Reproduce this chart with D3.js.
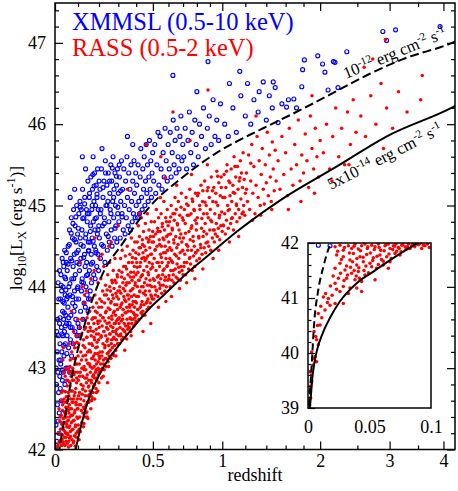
<!DOCTYPE html>
<html>
<head>
<meta charset="utf-8">
<script src="https://cdn.jsdelivr.net/npm/d3@7"></script>
<style>
  html, body { margin: 0; padding: 0; background: #fff; }
  svg { display: block; font-family: "Liberation Serif", "Times New Roman", serif; }
</style>
</head>
<body>
<div id="chart"></div>
<script>
// ---- data: [redshift, log10 Lx] ----
const dashedLimit = [ // 1e-12 erg cm^-2 s^-1
  [0.0008,39.05],[0.003,39.78],[0.0049,40.51],[0.0084,41.15],[0.0125,41.57],[0.0179,41.96],
  [0.0239,42.1],[0.0453,42.45],[0.066,42.8],[0.0967,43.2],[0.1276,43.51],[0.167,43.84],
  [0.2163,44.15],[0.3253,44.54],[0.4822,44.99],[0.699,45.35],[0.956,45.65],[1.242,45.87],
  [1.436,45.99],[1.793,46.19],[2.216,46.41],[2.686,46.62],[3.226,46.8],[4.18,47.0],[4.3,47.03]
];
const solidLimit = [ // 5e-14 erg cm^-2 s^-1
  [0.0016,39.0],[0.0038,39.6],[0.0071,40.03],[0.0125,40.39],[0.0179,40.64],[0.026,40.94],
  [0.0396,41.27],[0.0531,41.48],[0.0667,41.69],[0.0884,41.99],[0.1432,42.57],[0.2246,43.02],
  [0.3129,43.31],[0.406,43.56],[0.482,43.74],[0.57,43.9],[0.749,44.2],[0.8745,44.37],
  [1.125,44.68],[1.55,45.07],[2.216,45.48],[2.955,45.85],[4.2,46.21],[4.3,46.24]
];

const xmmPoints = [
  [0.004,42.3],[0.006,42.8],[0.008,42.1],[0.009,43.2],[0.01,42.55],[0.011,43.6],[0.012,42.95],[0.013,42.35],[0.014,43.4],[0.015,42.7],
  [0.016,43.85],[0.017,43.1],[0.018,42.45],[0.019,43.55],[0.02,42.9],[0.007,43.45],[0.005,43.0],[0.013,44.05],[0.017,42.2],[0.019,44.2],
  [0.021,43.3],[0.022,42.75],[0.023,43.85],[0.024,43.05],[0.025,44.15],[0.026,42.6],[0.027,43.5],[0.028,43.95],[0.029,43.2],[0.03,44.35],
  [0.031,42.85],[0.032,43.7],[0.033,43.4],[0.034,44.0],[0.035,42.95],[0.036,43.6],[0.037,44.25],[0.038,43.15],[0.039,43.8],[0.04,43.45],
  [0.041,44.45],[0.042,42.8],[0.043,43.9],[0.044,43.3],[0.045,44.1],[0.046,43.65],[0.047,43.0],[0.048,44.3],[0.049,43.55],[0.05,43.85],
  [0.051,43.4],[0.052,44.2],[0.054,43.0],[0.055,43.75],[0.056,44.5],[0.058,43.25],[0.059,44.0],[0.06,43.55],[0.062,44.7],[0.063,42.95],
  [0.064,43.9],[0.066,43.35],[0.067,44.35],[0.068,43.65],[0.07,44.85],[0.071,43.15],[0.072,44.1],[0.074,43.5],[0.075,44.6],[0.076,43.8],
  [0.078,44.25],[0.079,43.3],[0.08,44.95],[0.082,43.7],[0.083,44.4],[0.084,43.95],[0.086,43.45],[0.087,44.75],[0.088,44.15],[0.09,43.6],
  [0.091,44.55],[0.092,43.85],[0.094,45.0],[0.095,44.3],[0.096,43.4],[0.098,44.65],[0.099,44.0],[0.1,43.55],[0.065,45.1],[0.085,45.2],
  [0.101,44.45],[0.103,43.85],[0.104,44.9],[0.106,43.5],[0.107,44.2],[0.109,45.05],[0.11,44.6],[0.112,43.7],[0.113,44.35],[0.115,44.95],
  [0.116,43.95],[0.118,44.7],[0.119,44.1],[0.121,45.2],[0.122,43.6],[0.124,44.5],[0.125,44.05],[0.127,44.85],[0.128,43.8],[0.13,44.4],
  [0.131,45.1],[0.133,44.25],[0.134,43.75],[0.136,44.65],[0.137,44.0],[0.139,44.95],[0.14,44.3],[0.142,43.9],[0.143,44.8],[0.145,44.15],
  [0.146,45.3],[0.148,44.55],[0.149,43.85],[0.15,44.45],[0.108,43.4],[0.135,45.45],[0.12,45.6],[0.147,43.7],
  [0.151,44.9],[0.153,44.2],[0.154,45.15],[0.156,44.55],[0.157,43.95],[0.159,44.75],[0.16,45.35],[0.162,44.4],[0.163,44.05],[0.165,44.95],
  [0.166,44.6],[0.168,45.2],[0.169,44.3],[0.171,45.6],[0.172,44.8],[0.174,44.15],[0.175,45.05],[0.177,44.5],[0.178,45.4],[0.18,44.7],
  [0.181,44.1],[0.183,45.0],[0.184,44.45],[0.186,45.25],[0.187,44.85],[0.189,44.25],[0.19,45.1],[0.192,44.65],[0.193,45.45],[0.195,44.4],
  [0.196,44.95],[0.198,44.2],[0.199,44.75],[0.17,45.38],[0.158,43.85],
  [0.202,44.6],[0.205,45.2],[0.207,44.35],[0.21,44.95],[0.212,45.45],[0.215,45.7],[0.217,44.75],[0.22,45.1],[0.222,44.5],[0.225,45.3],
  [0.227,44.85],[0.23,44.3],[0.232,45.55],[0.235,45.0],[0.237,44.65],[0.24,45.25],[0.242,44.45],[0.245,45.05],[0.247,45.4],[0.25,44.8],
  [0.252,44.55],[0.255,45.15],[0.257,44.95],[0.26,45.5],[0.262,44.7],[0.265,45.3],[0.267,44.5],[0.27,45.05],[0.272,45.6],[0.275,44.85],
  [0.277,45.2],[0.28,44.6],[0.282,45.4],[0.285,45.0],[0.287,44.75],[0.29,45.25],[0.292,44.55],[0.295,45.45],[0.297,44.9],[0.3,45.15],
  [0.303,44.8],[0.306,45.35],[0.31,44.6],[0.313,45.05],[0.317,45.55],[0.32,44.9],[0.323,45.2],[0.327,44.7],[0.33,45.45],[0.334,45.0],
  [0.337,44.65],[0.34,45.3],[0.344,44.85],[0.347,45.6],[0.35,45.1],[0.354,44.75],[0.357,45.4],[0.36,44.95],[0.364,45.2],[0.367,44.7],
  [0.37,45.5],[0.374,45.05],[0.377,44.8],[0.38,45.3],[0.384,44.9],[0.387,45.55],[0.39,45.15],[0.394,44.85],[0.397,45.4],[0.4,45.0],
  [0.35,45.85],[0.38,45.75],
  [0.403,45.25],[0.407,44.85],[0.411,45.5],[0.415,45.05],[0.419,44.9],[0.423,45.35],[0.427,45.7],[0.431,45.1],[0.435,44.95],[0.439,45.45],
  [0.443,45.2],[0.447,45.6],[0.451,45.0],[0.455,45.3],[0.459,45.75],[0.463,45.15],[0.467,45.5],[0.471,45.05],[0.475,45.35],[0.479,45.8],
  [0.483,45.2],[0.487,45.55],[0.491,45.1],[0.495,45.4],[0.499,45.65],
  [0.505,45.3],[0.512,45.75],[0.518,45.15],[0.525,45.5],[0.532,45.9],[0.538,45.25],[0.545,45.85],[0.552,45.45],[0.558,45.2],[0.565,45.65],
  [0.572,45.35],[0.578,45.95],[0.585,45.55],[0.592,45.3],[0.598,45.75],[0.605,45.45],[0.612,45.9],[0.618,45.35],[0.625,45.65],[0.632,46.05],
  [0.638,45.5],[0.645,45.8],[0.652,45.4],[0.658,45.95],[0.665,45.6],[0.672,45.45],[0.678,45.85],[0.685,46.1],[0.692,45.55],[0.698,45.75],
  [0.63,46.6],
  [0.705,45.6],[0.715,45.95],[0.725,45.45],[0.735,45.8],[0.745,46.15],[0.755,45.65],[0.765,45.9],[0.775,45.5],[0.785,46.05],[0.795,45.75],
  [0.81,45.6],[0.82,46.0],[0.835,45.85],[0.85,46.2],[0.865,45.7],[0.88,45.95],[0.895,46.1],[0.91,45.75],[0.925,46.3],[0.94,45.85],
  [0.955,46.05],[0.97,45.8],[0.985,46.25],[0.885,46.77],[0.8,46.4],
  [1.02,46.0],[1.06,46.5],[1.09,46.2],[1.12,45.9],[1.16,46.35],[1.2,46.1],[1.22,46.5],[1.25,46.0],[1.28,46.3],[1.32,46.15],
  [1.37,46.52],[1.4,46.05],[1.43,46.35],[1.46,46.2],[1.49,46.45],[1.15,46.65],[1.33,46.4],[1.05,45.85],
  [1.52,46.02],[1.56,46.25],[1.61,46.21],[1.63,46.3],[1.69,46.31],[1.72,46.2],[1.78,46.46],[1.79,46.67],[1.81,46.79],[1.97,46.84],
  [2.03,46.74],[2.06,46.64],[2.1,46.42],[2.17,46.77],[2.19,46.76],[2.23,46.45],[2.35,46.89],[2.89,47.14],[2.95,47.03],[3.1,47.16],
  [3.93,47.2],[1.47,46.52],
  [0.0084,41.96],[0.0179,41.95]
];

// denser XMMSL core at low redshift
const xmmCore = [
  [0.0215,43.62],[0.0236,43.1],[0.0258,44.02],[0.0283,43.42],[0.0306,42.98],[0.0329,43.82],[0.0347,44.3],[0.0368,43.28],[0.0392,43.68],[0.0413,44.12],
  [0.0437,43.52],[0.0458,43.96],[0.0477,44.42],[0.0503,43.18],[0.0531,43.88],[0.0557,44.28],[0.0584,43.62],[0.0611,44.52],[0.0637,44.04],[0.0664,43.5],
  [0.0693,44.66],[0.0721,44.32],[0.0748,43.88],[0.0773,44.78],[0.0806,44.1],[0.0838,44.58],[0.0871,43.76],[0.0903,44.86],[0.0937,44.42],[0.0972,43.98],
  [0.1013,44.72],[0.1052,44.28],[0.1094,44.98],[0.1133,44.52],[0.1176,44.06],[0.1218,44.84],[0.1261,44.36],[0.1305,45.02],[0.1348,44.6],[0.1392,44.14],
  [0.1436,44.9],[0.1482,44.44],[0.1527,45.1],[0.1573,44.68],[0.1618,44.28],[0.1664,45.0],[0.1711,44.56],[0.1758,45.24],[0.1806,44.84],[0.1853,44.42],
  [0.1901,45.14],[0.1952,44.7],[0.2004,45.3],[0.2068,44.9],[0.2132,44.52],[0.2197,45.22],[0.2263,44.78],[0.2331,45.4],[0.2398,45.0],[0.2467,44.62],
  [0.2536,45.3],[0.2607,44.9],[0.2678,45.46],[0.2751,45.1],[0.2824,44.72],[0.2897,45.36],[0.2972,44.98],[0.3048,45.5],[0.3124,45.18],[0.3201,44.86]
];

// RASS sources below 1e42 (seen in the inset)
const rassLow = [
  [0.022,41.93],[0.026,41.96],[0.0287,41.87],[0.0328,41.95],[0.0355,41.9],[0.0382,41.98],[0.0409,41.89],[0.0436,41.95],[0.0463,41.98],[0.0482,41.9],
  [0.0518,41.96],[0.0545,41.93],[0.0572,41.98],[0.0591,41.87],[0.0626,41.95],[0.0653,41.98],[0.0667,41.9],[0.0694,41.95],[0.0715,41.98],[0.0734,41.92],
  [0.0762,41.96],[0.0789,41.93],[0.0816,41.98],[0.0843,41.95],[0.0883,41.98],[0.0924,41.9],[0.0951,41.95],[0.0986,41.92],
  [0.0233,41.78],[0.0287,41.75],[0.0369,41.81],[0.0423,41.75],[0.0477,41.79],[0.0531,41.73],[0.0585,41.78],[0.064,41.75],[0.0707,41.81],[0.0748,41.78],
  [0.0667,41.66],[0.0612,41.6],[0.0558,41.54],[0.0504,41.63],[0.045,41.66],[0.0396,41.6],[0.0341,41.69],[0.026,41.63],[0.022,41.54],[0.0301,41.51],
  [0.0355,41.45],[0.0409,41.48],[0.0463,41.42],[0.0518,41.57],[0.0572,41.61],[0.0612,41.67],[0.0436,41.3],[0.0382,41.33],[0.0314,41.36],[0.0247,41.36],
  [0.022,41.27],[0.0287,41.21],[0.0341,41.18],[0.0396,41.18],[0.026,41.12],[0.0328,41.08],[0.0545,41.33],[0.0436,41.12],[0.0653,41.54],
  [0.0125,41.02],[0.0165,40.99],[0.0179,40.87],[0.022,40.9],[0.0287,40.9],[0.0138,40.78],[0.0084,40.72],[0.0098,40.51],[0.0049,40.39],[0.007,40.24],
  [0.0084,40.15],[0.003,40.02],[0.0057,39.93],[0.007,39.84],[0.0043,39.78],[0.0016,39.66],[0.003,39.48],[0.0016,39.3],[0.0022,39.18],[0.0011,39.05],
  [0.0241,41.85],[0.0272,41.7],[0.0296,41.92],[0.0313,41.58],[0.0337,41.82],[0.0362,41.66],[0.0374,41.94],[0.0398,41.72],[0.0413,41.55],[0.0427,41.86],
  [0.0448,41.74],[0.0471,41.58],[0.0486,41.93],[0.0507,41.82],[0.0526,41.68],[0.0539,41.88],[0.0561,41.76],[0.0578,41.92],[0.0597,41.7],[0.0619,41.86],
  [0.0634,41.97],[0.0658,41.8],[0.0676,41.72],[0.0689,41.88],[0.0703,41.94],[0.0721,41.85],[0.0742,41.9],[0.0757,41.84],[0.0771,41.97],[0.0796,41.88],
  [0.0808,41.93],[0.0829,41.9],[0.0851,41.99],[0.0868,41.93],[0.0897,41.97],[0.0912,41.99],[0.0938,41.96],[0.0972,41.98],[0.0264,41.45],[0.0293,41.32],
  [0.0321,41.42],[0.0346,41.56],[0.0375,41.5],[0.0392,41.4],[0.0418,41.36],[0.0455,41.5],[0.0492,41.46],[0.0232,41.16],[0.0196,41.05],[0.0182,41.22],
  [0.0205,41.4],[0.0158,40.92],[0.0143,41.08],[0.0112,40.64],[0.0104,40.85],[0.0063,40.3],[0.0077,40.5],[0.0039,39.9],[0.0027,39.6],[0.0021,39.4]
];

const rassMain = [
  [0.012,42.05],[0.015,42.2],[0.018,42.1],[0.02,42.35],[0.009,42.02],[0.017,42.5],
  [0.021,42.08],[0.023,42.25],[0.025,42.12],[0.026,42.42],[0.028,42.05],[0.029,42.31],[0.031,42.18],[0.032,42.55],[0.034,42.09],[0.035,42.38],
  [0.036,42.24],[0.038,42.62],[0.039,42.15],[0.04,42.46],[0.042,42.05],[0.043,42.33],[0.044,42.71],[0.045,42.2],[0.046,42.52],[0.047,42.1],
  [0.048,42.4],[0.049,42.85],[0.05,42.28],[0.027,42.7],[0.037,42.95],[0.033,43.1],
  [0.051,42.6],[0.052,42.07],[0.053,42.35],[0.054,42.85],[0.055,42.18],[0.056,42.48],[0.057,42.7],[0.058,42.03],[0.059,42.27],[0.06,42.95],
  [0.061,42.55],[0.062,42.14],[0.063,42.4],[0.064,42.78],[0.065,43.1],[0.066,42.22],[0.067,42.62],[0.068,42.05],[0.069,42.9],[0.07,42.33],
  [0.071,42.5],[0.072,43.2],[0.073,42.12],[0.074,42.72],[0.075,42.42],[0.076,43.0],[0.077,42.25],[0.078,42.58],[0.079,42.08],[0.08,42.85],
  [0.081,43.3],[0.082,42.36],[0.083,42.66],[0.084,42.17],[0.085,42.95],[0.086,42.48],[0.087,43.12],[0.088,42.04],[0.089,42.3],[0.09,42.75],
  [0.091,42.55],[0.092,43.4],[0.093,42.15],[0.094,42.88],[0.095,42.4],[0.096,43.05],[0.097,42.62],[0.098,42.22],[0.099,43.25],[0.1,42.5],
  [0.101,42.3],[0.102,42.85],[0.103,43.3],[0.104,42.55],[0.105,42.12],[0.106,43.05],[0.107,42.7],[0.108,42.4],[0.109,43.5],[0.11,42.95],
  [0.111,42.22],[0.112,42.62],[0.113,43.2],[0.114,42.8],[0.115,42.48],[0.116,43.42],[0.117,42.33],[0.118,43.0],[0.119,42.68],[0.12,43.6],
  [0.121,42.9],[0.122,42.45],[0.123,43.15],[0.124,42.78],[0.125,42.28],[0.126,43.35],[0.127,42.6],[0.128,43.02],[0.129,42.5],[0.13,43.8],
  [0.131,42.88],[0.132,43.25],[0.133,42.4],[0.134,42.72],[0.135,43.5],[0.136,42.98],[0.137,42.55],[0.138,43.1],[0.139,42.82],[0.14,43.38],
  [0.141,42.46],[0.142,43.62],[0.143,42.92],[0.144,42.66],[0.145,43.2],[0.146,42.38],[0.147,43.45],[0.148,42.77],[0.149,43.05],[0.15,42.58],
  [0.118,44.0],[0.138,43.95],
  [0.151,42.85],[0.152,43.3],[0.153,42.6],[0.154,43.7],[0.155,43.05],[0.156,42.72],[0.157,43.5],[0.158,42.95],[0.159,43.2],[0.16,42.5],
  [0.161,43.85],[0.162,43.4],[0.163,42.82],[0.164,43.12],[0.165,42.65],[0.166,43.6],[0.167,43.0],[0.168,43.28],[0.169,42.9],[0.17,43.75],
  [0.171,42.7],[0.172,43.45],[0.173,43.15],[0.174,42.78],[0.175,43.55],[0.176,43.02],[0.177,42.88],[0.178,43.35],[0.179,42.62],[0.18,43.9],
  [0.181,43.1],[0.182,43.62],[0.183,42.95],[0.184,43.25],[0.185,42.75],[0.186,43.48],[0.187,43.05],[0.188,43.8],[0.189,42.85],[0.19,43.32],
  [0.191,43.68],[0.192,42.98],[0.193,43.18],[0.194,42.72],[0.195,43.55],[0.196,43.08],[0.197,42.92],[0.198,43.42],[0.199,43.75],[0.2,43.15],
  [0.176,44.2],[0.195,44.05],
  [0.201,43.5],[0.203,42.95],[0.204,43.85],[0.205,43.2],[0.207,43.65],[0.208,43.05],[0.209,44.1],[0.21,43.38],[0.212,42.88],[0.213,43.75],
  [0.214,43.15],[0.216,43.52],[0.217,43.0],[0.218,43.95],[0.22,43.3],[0.221,43.62],[0.222,43.1],[0.224,44.25],[0.225,43.45],[0.226,42.98],
  [0.228,43.8],[0.229,43.25],[0.23,43.58],[0.232,43.12],[0.233,44.02],[0.234,43.4],[0.236,43.7],[0.237,43.02],[0.238,43.9],[0.24,43.33],
  [0.241,43.55],[0.242,43.18],[0.244,44.15],[0.245,43.48],[0.246,43.08],[0.248,43.85],[0.249,43.28],[0.25,43.62],[0.252,43.15],[0.253,44.3],
  [0.254,43.42],[0.256,43.72],[0.257,43.22],[0.258,43.95],[0.26,43.52],[0.261,43.12],[0.262,43.82],[0.264,43.35],[0.265,44.08],[0.266,43.6],
  [0.268,43.25],[0.269,43.9],[0.27,43.45],[0.272,43.18],[0.273,44.2],[0.274,43.68],[0.276,43.38],[0.277,43.98],[0.278,43.55],[0.28,43.28],
  [0.281,43.78],[0.282,44.35],[0.284,43.45],[0.285,43.65],[0.286,43.22],[0.288,44.05],[0.289,43.58],[0.29,43.35],[0.292,43.88],[0.293,43.48],
  [0.294,44.15],[0.296,43.72],[0.297,43.3],[0.298,43.95],[0.299,43.6],[0.215,44.4],[0.262,44.55],[0.243,42.82],[0.287,43.15],
  [0.301,43.85],[0.302,43.4],[0.304,44.2],[0.305,43.62],[0.306,43.3],[0.308,44.0],[0.309,43.5],[0.31,43.75],[0.312,44.35],[0.313,43.42],
  [0.314,43.92],[0.316,43.58],[0.317,44.12],[0.318,43.35],[0.32,43.8],[0.321,44.45],[0.322,43.65],[0.324,43.48],[0.325,44.05],[0.326,43.72],
  [0.328,43.38],[0.329,44.25],[0.33,43.88],[0.332,43.55],[0.333,44.1],[0.334,43.45],[0.336,43.95],[0.337,43.68],[0.338,44.38],[0.34,43.52],
  [0.341,43.82],[0.342,44.02],[0.344,43.42],[0.345,44.22],[0.346,43.75],[0.348,43.6],[0.349,44.5],[0.35,43.9],[0.352,43.48],[0.353,44.15],
  [0.354,43.7],[0.356,43.55],[0.357,44.3],[0.358,43.85],[0.36,44.05],[0.361,43.5],[0.362,43.78],[0.364,44.4],[0.365,43.62],[0.366,43.95],
  [0.368,43.45],[0.369,44.18],[0.37,43.7],[0.372,44.6],[0.373,43.88],[0.374,43.55],[0.376,44.08],[0.377,43.78],[0.378,44.3],[0.38,43.6],
  [0.381,43.98],[0.382,44.45],[0.384,43.68],[0.385,44.12],[0.386,43.52],[0.388,43.9],[0.389,44.25],[0.39,43.75],[0.392,44.55],[0.393,43.62],
  [0.394,44.05],[0.396,43.82],[0.397,44.35],[0.398,43.58],[0.399,44.15],[0.335,43.22],[0.371,43.4],
  [0.401,43.8],[0.403,44.3],[0.404,43.65],[0.406,44.55],[0.407,44.0],[0.409,43.72],[0.41,44.18],[0.412,44.75],[0.413,43.88],[0.415,44.4],
  [0.416,43.6],[0.418,44.08],[0.419,44.62],[0.421,43.95],[0.422,44.25],[0.424,43.75],[0.425,44.48],[0.427,44.12],[0.428,43.68],[0.43,44.85],
  [0.431,44.0],[0.433,44.35],[0.434,43.82],[0.436,44.58],[0.437,44.15],[0.439,43.7],[0.44,44.42],[0.442,43.92],[0.443,44.68],[0.445,44.2],
  [0.446,43.78],[0.448,44.5],[0.449,44.05],[0.451,43.65],[0.452,44.32],[0.454,44.78],[0.455,43.9],[0.457,44.45],[0.458,44.1],[0.46,43.8],
  [0.461,44.6],[0.463,44.25],[0.464,43.72],[0.466,44.9],[0.467,44.02],[0.469,44.38],[0.47,43.85],[0.472,44.55],[0.473,44.15],[0.475,43.75],
  [0.476,44.7],[0.478,44.3],[0.479,43.95],[0.481,44.48],[0.482,44.08],[0.484,43.8],[0.485,44.62],[0.487,44.22],[0.488,43.9],[0.49,44.8],
  [0.491,44.4],[0.493,44.0],[0.494,44.55],[0.496,43.85],[0.497,44.28],[0.499,44.68],[0.44,43.45],[0.487,43.55],
  [0.502,44.1],[0.504,44.55],[0.506,43.85],[0.508,44.35],[0.51,44.8],[0.512,44.0],[0.514,44.45],[0.516,43.9],[0.518,44.65],[0.52,44.2],
  [0.522,44.95],[0.524,43.95],[0.526,44.5],[0.528,44.12],[0.53,44.72],[0.532,43.88],[0.534,44.3],[0.536,44.85],[0.538,44.05],[0.54,44.58],
  [0.542,44.25],[0.544,43.98],[0.546,44.68],[0.548,44.4],[0.55,44.1],[0.552,44.9],[0.554,44.5],[0.556,43.92],[0.558,44.3],[0.56,44.78],
  [0.562,44.15],[0.564,44.6],[0.566,44.02],[0.568,44.42],[0.57,45.05],[0.572,44.22],[0.574,44.7],[0.576,43.95],[0.578,44.5],[0.58,44.12],
  [0.582,44.85],[0.584,44.35],[0.586,44.0],[0.588,44.62],[0.59,44.25],[0.592,44.95],[0.594,44.45],[0.596,44.08],[0.598,44.75],[0.6,44.3],
  [0.535,43.75],[0.583,43.82],[0.547,45.1],
  [0.602,44.55],[0.604,44.1],[0.607,44.8],[0.609,44.35],[0.611,44.0],[0.614,44.65],[0.616,44.2],[0.618,45.0],[0.621,44.45],[0.623,44.08],
  [0.625,44.72],[0.628,44.3],[0.63,44.9],[0.632,44.15],[0.635,44.58],[0.637,44.05],[0.639,44.82],[0.642,44.4],[0.644,45.1],[0.646,44.22],
  [0.649,44.62],[0.651,44.12],[0.653,44.95],[0.656,44.48],[0.658,44.28],[0.66,44.78],[0.663,44.1],[0.665,44.52],[0.667,45.05],[0.67,44.35],
  [0.672,44.7],[0.674,44.18],[0.677,44.88],[0.679,44.42],[0.681,44.08],[0.684,44.65],[0.686,44.25],[0.688,45.15],[0.691,44.55],[0.693,44.2],
  [0.695,44.85],[0.698,44.45],[0.7,44.15],[0.62,43.88],[0.675,43.98],[0.655,45.25],
  [0.703,44.6],[0.706,44.25],[0.709,44.95],[0.712,44.4],[0.715,44.78],[0.718,44.15],[0.721,45.1],[0.724,44.52],[0.727,44.3],[0.73,44.88],
  [0.733,44.45],[0.736,45.0],[0.739,44.22],[0.742,44.68],[0.745,44.35],[0.748,45.2],[0.751,44.58],[0.754,44.28],[0.757,44.9],[0.76,44.45],
  [0.763,44.75],[0.766,44.2],[0.769,45.05],[0.772,44.62],[0.775,44.38],[0.778,44.95],[0.781,44.5],[0.784,44.25],[0.787,44.82],[0.79,45.15],
  [0.793,44.42],[0.796,44.7],[0.799,44.32],[0.725,44.05],[0.785,44.1],[0.76,45.38],
  [0.803,44.85],[0.807,44.45],[0.811,45.15],[0.815,44.6],[0.819,44.35],[0.823,44.95],[0.827,44.52],[0.831,45.25],[0.835,44.72],[0.839,44.4],
  [0.843,45.05],[0.847,44.62],[0.851,44.9],[0.855,44.48],[0.859,45.3],[0.863,44.78],[0.867,44.42],[0.871,45.0],[0.875,44.65],[0.879,45.18],
  [0.883,44.55],[0.887,44.85],[0.891,44.5],[0.895,45.1],[0.899,44.7],[0.903,44.95],[0.907,44.45],[0.911,45.35],[0.915,44.8],[0.919,44.6],
  [0.923,45.05],[0.927,44.7],[0.931,45.22],[0.935,44.55],[0.939,44.9],[0.943,44.65],[0.947,45.15],[0.951,44.78],[0.955,45.42],[0.959,44.62],
  [0.963,45.0],[0.967,44.72],[0.971,45.28],[0.975,44.85],[0.979,44.58],[0.983,45.12],[0.987,44.75],[0.991,45.35],[0.995,44.92],[0.999,44.68],
  [0.845,44.22],[0.925,44.35],[0.97,44.45],[0.88,45.5],
  [1.005,45.1],[1.01,44.75],[1.015,45.38],[1.02,44.9],[1.025,44.65],[1.03,45.22],[1.035,44.82],[1.04,45.5],[1.045,45.0],[1.05,44.72],
  [1.055,45.3],[1.06,44.95],[1.065,45.12],[1.07,44.78],[1.075,45.45],[1.08,45.05],[1.085,44.85],[1.09,45.25],[1.095,44.7],[1.1,45.6],
  [1.105,45.15],[1.11,44.9],[1.115,45.35],[1.12,45.02],[1.125,44.8],[1.13,45.48],[1.135,45.2],[1.14,44.95],[1.145,45.3],[1.15,44.85],
  [1.155,45.55],[1.16,45.08],[1.165,45.4],[1.17,44.9],[1.175,45.22],[1.18,45.65],[1.185,45.0],[1.19,45.32],[1.195,44.88],[1.2,45.15],
  [1.06,44.55],[1.14,44.62],
  [1.21,45.4],[1.22,45.05],[1.23,45.62],[1.24,44.95],[1.25,45.3],[1.26,45.75],[1.27,45.15],[1.28,45.48],[1.29,44.9],[1.3,45.25],
  [1.31,45.85],[1.32,45.1],[1.33,45.55],[1.34,45.0],[1.35,45.38],[1.36,45.7],[1.37,45.2],[1.38,45.02],[1.39,45.5],[1.4,45.28],
  [1.41,45.9],[1.42,45.12],[1.43,45.62],[1.44,45.35],[1.45,45.05],[1.46,45.78],[1.47,45.45],[1.48,45.18],[1.49,45.68],[1.5,45.3],
  [1.265,44.82],[1.345,44.88],[1.455,44.95],
  [1.52,45.55],[1.54,45.2],[1.56,45.85],[1.58,45.38],[1.6,45.65],[1.62,45.12],[1.64,45.95],[1.66,45.45],[1.68,45.25],[1.7,45.75],
  [1.72,45.5],[1.74,46.05],[1.76,45.3],[1.78,45.62],[1.8,45.4],[1.82,45.88],[1.84,45.55],[1.86,45.22],[1.88,46.1],[1.9,45.7],
  [1.92,45.45],[1.94,45.95],[1.96,45.6],[1.98,45.35],[2.0,45.8],[1.63,44.95],[1.77,45.05],[1.93,45.15],
  [2.04,45.65],[2.08,46.0],[2.12,45.45],[2.16,45.85],[2.2,46.2],[2.24,45.6],[2.28,45.95],[2.32,45.5],[2.36,46.15],[2.4,45.75],
  [2.44,46.3],[2.48,45.9],[2.15,45.3],[2.38,45.5],
  [2.55,46.1],[2.62,45.85],[2.7,46.35],[2.78,46.0],[2.86,46.5],[2.95,46.2],[3.05,45.95],[3.15,46.4],[3.3,46.15],[3.55,46.3],
  [3.58,46.6],[2.9,45.7]
];

// the densest RASS band between the two flux limits
const rassCore = [
  [0.0215,42.4],[0.0243,42.18],[0.0262,42.6],[0.0277,42.33],[0.0301,42.12],[0.0318,42.48],[0.0336,42.27],[0.0353,42.72],[0.0371,42.06],[0.0388,42.39],
  [0.0407,42.58],[0.0419,42.22],[0.0432,42.9],[0.0451,42.44],[0.0468,42.15],[0.0479,42.65],[0.0494,42.31],[0.0512,42.78],[0.0527,42.2],[0.0541,42.52],
  [0.0558,42.98],[0.0567,42.36],[0.0583,42.1],[0.0592,42.66],[0.0599,42.45],
  [0.0613,42.83],[0.0628,42.29],[0.0641,43.02],[0.0655,42.5],[0.0672,42.16],[0.0684,42.72],[0.0698,42.42],[0.0712,42.96],[0.0726,42.24],[0.0739,42.58],
  [0.0751,42.85],[0.0768,42.35],[0.0779,43.12],[0.0793,42.62],[0.0808,42.1],[0.0821,42.92],[0.0836,42.45],[0.0849,43.25],[0.0863,42.7],[0.0877,42.28],
  [0.0892,43.05],[0.0905,42.58],[0.0918,42.2],[0.0932,42.82],[0.0947,43.32],[0.0961,42.5],[0.0975,42.95],[0.0988,42.38],[0.1004,43.15],[0.1027,42.66],
  [0.1046,42.25],[0.1071,42.9],[0.1093,43.4],[0.1126,42.55],[0.1158,43.1],
  [0.1214,42.74],[0.1236,43.28],[0.1259,42.52],[0.1281,42.98],[0.1302,43.48],[0.1327,42.66],[0.1349,43.16],[0.1372,42.45],[0.1394,42.88],[0.1418,43.38],
  [0.1437,42.58],[0.1462,43.06],[0.1485,43.55],[0.1508,42.78],[0.1531,43.22],[0.1553,42.68],[0.1574,43.02],[0.1598,43.46],[0.1619,42.85],[0.1643,43.3],
  [0.1666,42.62],[0.1689,43.12],[0.1712,43.62],[0.1735,42.92],[0.1757,43.38],[0.1778,42.8],[0.1801,43.18],[0.1826,43.7],[0.1848,42.98],[0.1869,43.42],
  [0.1892,42.88],[0.1915,43.26],[0.1937,43.58],[0.1958,43.0],[0.1981,43.35],[0.1996,42.82],[0.1428,42.4],[0.1635,42.6],[0.1873,42.7],[0.1275,42.32],
  [0.2027,43.12],[0.2054,43.58],[0.2083,42.98],[0.2109,43.4],[0.2138,43.82],[0.2162,43.2],[0.2191,43.62],[0.2219,43.05],[0.2243,43.45],[0.2274,43.9],
  [0.2301,43.28],[0.2327,43.68],[0.2356,43.12],[0.2382,43.5],[0.2411,43.96],[0.2437,43.36],[0.2463,43.74],[0.2492,43.2],[0.2518,43.56],[0.2546,44.0],
  [0.2571,43.42],[0.2599,43.8],[0.2627,43.3],[0.2652,43.64],[0.2681,44.05],[0.2706,43.5],[0.2734,43.86],[0.2762,43.36],[0.2789,43.7],[0.2817,44.08],
  [0.2842,43.55],[0.2871,43.92],[0.2896,43.42],[0.2924,43.78],[0.2951,44.12],[0.2978,43.6],[0.2213,42.9],[0.2488,43.02],[0.2733,43.16],[0.2965,43.3],
  [0.3036,43.55],[0.3074,43.95],[0.3117,43.4],[0.3152,43.78],[0.3195,44.18],[0.3231,43.6],[0.3273,43.98],[0.3309,43.46],[0.3348,43.84],[0.3391,44.25],
  [0.3427,43.68],[0.3466,44.05],[0.3508,43.52],[0.3545,43.9],[0.3587,44.3],[0.3623,43.75],[0.3664,44.12],[0.3702,43.6],[0.3741,43.96],[0.3783,44.36],
  [0.3822,43.82],[0.3861,44.18],[0.3899,43.66],[0.3938,44.02],[0.3979,44.42],[0.4018,43.88],[0.4056,44.24],[0.4097,43.72],[0.4135,44.08],[0.4174,44.48],
  [0.4212,43.94],[0.4253,44.3],[0.4291,43.78],[0.4332,44.14],[0.4371,44.52],[0.4409,44.0],[0.4448,44.36],[0.3462,43.36],[0.3958,43.55],[0.4357,43.66],
  [0.4537,43.95],[0.4591,44.35],[0.4648,43.82],[0.4702,44.18],[0.4759,44.58],[0.4813,44.02],[0.4868,44.4],[0.4924,43.88],[0.4979,44.24],[0.5036,44.62],
  [0.5092,44.08],[0.5147,44.46],[0.5203,43.96],[0.5258,44.3],[0.5314,44.68],[0.5369,44.14],[0.5426,44.52],[0.5482,44.02],[0.5537,44.36],[0.5593,44.74],
  [0.5648,44.2],[0.5704,44.58],[0.5761,44.08],[0.5816,44.42],[0.5872,44.8],[0.5927,44.26],[0.5983,44.64],[0.6039,44.14],[0.6094,44.48],[0.6151,44.86],
  [0.6206,44.32],[0.6262,44.7],[0.6318,44.2],[0.6373,44.54],[0.6429,44.9],
  [0.6536,44.38],[0.6612,44.76],[0.6695,44.24],[0.6773,44.6],[0.6854,44.98],[0.6931,44.44],[0.7013,44.82],[0.7092,44.3],[0.7174,44.66],[0.7253,45.02],
  [0.7331,44.5],[0.7412,44.88],[0.7494,44.36],[0.7573,44.72],[0.7651,45.08],[0.7732,44.56],[0.7814,44.94],[0.7893,44.42],[0.7972,44.78],[0.8054,45.12],
  [0.8133,44.62],[0.8212,45.0],[0.8294,44.48],[0.8373,44.84],[0.8452,45.18],[0.8534,44.68],[0.8613,45.04],[0.8692,44.54],[0.8774,44.9],[0.8856,45.22],
  [0.9065,44.82],[0.9203,45.18],[0.9347,44.7],[0.9489,45.04],[0.9631,45.36],[0.9776,44.88],[0.9915,45.22],[1.0063,44.76],[1.0207,45.1],[1.0351,45.42],
  [1.0496,44.94],[1.0638,45.28],[1.0783,44.84],[1.0925,45.16],[1.1071,45.48],[1.1218,45.0],[1.1514,45.34],[1.1809,44.92],[1.2106,45.2],[1.2503,45.52]
];

// RASS sources scattered into the XMMSL region
const rassBright = [
  [0.63,46.15],[0.885,46.42],[0.46,45.75],[0.577,45.34],[0.42,44.9],[0.3,44.75],[0.25,44.5],[0.2,44.35],[0.16,44.1],[0.13,43.9],
  [0.1,43.6],[0.08,43.45],[0.06,43.3],[0.045,43.0],[0.035,43.25],[0.07,43.7],[0.11,44.3],[0.18,44.6],[0.35,45.2],[0.55,45.6],
  [0.75,45.8],[1.3,46.1],[1.9,46.35],[2.6,46.7],[2.73,46.8],[2.93,47.04]
];

const xTickMajor = [0, 0.5, 1, 2, 3, 4];
const xTickLabels = ['0', '0.5', '1', '2', '3', '4'];
const xTickMinor = [0.1, 0.2, 0.3, 0.4, 0.6, 0.7, 0.8, 0.9, 1.2, 1.4, 1.6, 1.8, 2.5, 3.5];
const yTickMajor = [42, 43, 44, 45, 46, 47];
const insetXTicks = [0, 0.05, 0.1];
const insetXLabels = ['0', '0.05', '0.1'];
const insetYTicks = [39, 40, 41, 42];

const legendItems = [
  { label: 'XMMSL (0.5-10 keV)', color: '#0000ff' },
  { label: 'RASS (0.5-2 keV)', color: '#ff0000' }
];

// ---- layout ----
const WIDTH = 458, HEIGHT = 491;
const PLOT = { LEFT: 55, RIGHT: 455, TOP: 3, BOTTOM: 449.5 };
const INSET = { LEFT: 308, RIGHT: 431, TOP: 243, BOTTOM: 408 };
const FONT = '"Liberation Serif", "Times New Roman", serif';

const svg = d3.select('#chart').append('svg')
    .attr('width', WIDTH)
    .attr('height', HEIGHT);

// x axis is linear in log10(1+z)
const x = d3.scaleLog().domain([1, 5.245]).range([PLOT.LEFT, PLOT.RIGHT]);
const xz = z => x(1 + z);
const y = d3.scaleLinear().domain([42, 47.49]).range([PLOT.BOTTOM, PLOT.TOP]);

const xi = d3.scaleLinear().domain([0, 0.1]).range([INSET.LEFT, INSET.RIGHT]);
const yi = d3.scaleLinear().domain([39, 42]).range([INSET.BOTTOM, INSET.TOP]);

const xmmAll = xmmPoints.concat(xmmCore);
const rassAll = rassLow.concat(rassMain, rassCore, rassBright);

const defs = svg.append('defs');
defs.append('clipPath').attr('id', 'clip-main').append('rect')
    .attr('x', PLOT.LEFT).attr('y', PLOT.TOP)
    .attr('width', PLOT.RIGHT - PLOT.LEFT).attr('height', PLOT.BOTTOM - PLOT.TOP);
defs.append('clipPath').attr('id', 'clip-inset').append('rect')
    .attr('x', INSET.LEFT).attr('y', INSET.TOP)
    .attr('width', INSET.RIGHT - INSET.LEFT).attr('height', INSET.BOTTOM - INSET.TOP);

function drawPanel(layer, sx, sy, dash) {
    layer.selectAll('circle.xmm')
        .data(xmmAll)
        .enter().append('circle')
        .attr('class', 'xmm')
        .attr('cx', d => sx(d[0]))
        .attr('cy', d => sy(d[1]))
        .attr('r', 2)
        .attr('fill', 'none')
        .attr('stroke', '#0000ff')
        .attr('stroke-width', 1.15);

    layer.selectAll('circle.rass')
        .data(rassAll)
        .enter().append('circle')
        .attr('class', 'rass')
        .attr('cx', d => sx(d[0]))
        .attr('cy', d => sy(d[1]))
        .attr('r', 1.75)
        .attr('fill', '#ff0000');

    const line = d3.line()
        .x(d => sx(d[0]))
        .y(d => sy(d[1]))
        .curve(d3.curveMonotoneX);

    layer.append('path')
        .datum(dashedLimit)
        .attr('d', line)
        .attr('fill', 'none')
        .attr('stroke', '#000')
        .attr('stroke-width', 2)
        .attr('stroke-dasharray', dash);

    layer.append('path')
        .datum(solidLimit)
        .attr('d', line)
        .attr('fill', 'none')
        .attr('stroke', '#000')
        .attr('stroke-width', 2);
}

// ---- main panel ----
const mainLayer = svg.append('g').attr('clip-path', 'url(#clip-main)');
drawPanel(mainLayer, xz, y, '9,4');

// ---- inset ----
svg.append('rect')
    .attr('x', INSET.LEFT).attr('y', INSET.TOP)
    .attr('width', INSET.RIGHT - INSET.LEFT).attr('height', INSET.BOTTOM - INSET.TOP)
    .attr('fill', '#fff');

const insetLayer = svg.append('g').attr('clip-path', 'url(#clip-inset)');
drawPanel(insetLayer, xi, yi, '7,4');

function styleAxis(g, size) {
    g.select('.domain').remove();
    g.attr('font-size', size).attr('font-family', null).style('font-family', FONT);
    g.selectAll('.tick line').attr('stroke-width', 1.2);
    g.selectAll('.tick text').attr('fill', '#000');
}

svg.append('g')
    .attr('transform', `translate(${INSET.LEFT},0)`)
    .call(d3.axisLeft(yi).tickValues(insetYTicks).tickSize(-7).tickPadding(9).tickFormat(d3.format('d')))
    .call(g => styleAxis(g, 18));
svg.append('g')
    .attr('transform', `translate(${INSET.LEFT},0)`)
    .call(d3.axisLeft(yi).tickValues(d3.range(39.2, 42, 0.2).filter(v => Math.abs(v - Math.round(v)) > 0.01)).tickSize(-3.5).tickFormat(''))
    .call(g => styleAxis(g, 18));
svg.append('g')
    .attr('transform', `translate(0,${INSET.BOTTOM})`)
    .call(d3.axisBottom(xi).tickValues(insetXTicks).tickSize(0).tickPadding(12).tickFormat((d, i) => insetXLabels[i]))
    .call(g => styleAxis(g, 18));

svg.append('rect')
    .attr('x', INSET.LEFT).attr('y', INSET.TOP)
    .attr('width', INSET.RIGHT - INSET.LEFT).attr('height', INSET.BOTTOM - INSET.TOP)
    .attr('fill', 'none')
    .attr('stroke', '#000')
    .attr('stroke-width', 1.5);

// ---- main axes ----
const xMajorVals = xTickMajor.map(z => 1 + z);
const xMinorVals = xTickMinor.map(z => 1 + z);
const yMinorVals = d3.range(42.2, 47.49, 0.2).filter(v => Math.abs(v - Math.round(v)) > 0.01);

svg.append('g')
    .attr('transform', `translate(0,${PLOT.BOTTOM})`)
    .call(d3.axisBottom(x).tickValues(xMajorVals).tickSize(-8).tickPadding(5).tickFormat((d, i) => xTickLabels[i]))
    .call(g => styleAxis(g, 18));
svg.append('g')
    .attr('transform', `translate(0,${PLOT.BOTTOM})`)
    .call(d3.axisBottom(x).tickValues(xMinorVals).tickSize(-4).tickFormat(''))
    .call(g => styleAxis(g, 18));
svg.append('g')
    .attr('transform', `translate(0,${PLOT.TOP})`)
    .call(d3.axisTop(x).tickValues(xMajorVals).tickSize(-8).tickFormat(''))
    .call(g => styleAxis(g, 18));
svg.append('g')
    .attr('transform', `translate(0,${PLOT.TOP})`)
    .call(d3.axisTop(x).tickValues(xMinorVals).tickSize(-4).tickFormat(''))
    .call(g => styleAxis(g, 18));

svg.append('g')
    .attr('transform', `translate(${PLOT.LEFT},0)`)
    .call(d3.axisLeft(y).tickValues(yTickMajor).tickSize(-8).tickPadding(9).tickFormat(d3.format('d')))
    .call(g => styleAxis(g, 18));
svg.append('g')
    .attr('transform', `translate(${PLOT.LEFT},0)`)
    .call(d3.axisLeft(y).tickValues(yMinorVals).tickSize(-4).tickFormat(''))
    .call(g => styleAxis(g, 18));
svg.append('g')
    .attr('transform', `translate(${PLOT.RIGHT},0)`)
    .call(d3.axisRight(y).tickValues(yTickMajor).tickSize(-8).tickFormat(''))
    .call(g => styleAxis(g, 18));
svg.append('g')
    .attr('transform', `translate(${PLOT.RIGHT},0)`)
    .call(d3.axisRight(y).tickValues(yMinorVals).tickSize(-4).tickFormat(''))
    .call(g => styleAxis(g, 18));

svg.append('rect')
    .attr('x', PLOT.LEFT).attr('y', PLOT.TOP)
    .attr('width', PLOT.RIGHT - PLOT.LEFT).attr('height', PLOT.BOTTOM - PLOT.TOP)
    .attr('fill', 'none')
    .attr('stroke', '#000')
    .attr('stroke-width', 1.5);

// ---- text ----
function richText(g, parts, size) {
    const t = g.append('text')
        .style('font-family', FONT)
        .attr('font-size', size)
        .attr('fill', '#000');
    let shift = 0;
    parts.forEach(p => {
        const target = p.sup ? -0.38 * size : p.sub ? 0.25 * size : 0;
        t.append('tspan')
            .attr('dy', target - shift)
            .attr('font-size', p.sup || p.sub ? size * 0.68 : size)
            .text(p.t);
        shift = target;
    });
    return t;
}

svg.append('text')
    .attr('x', (PLOT.LEFT + PLOT.RIGHT) / 2)
    .attr('y', 481)
    .attr('text-anchor', 'middle')
    .style('font-family', FONT)
    .attr('font-size', 18)
    .text('redshift');

const yLab = svg.append('g').attr('transform', 'translate(22,228) rotate(-90)');
richText(yLab, [
    { t: 'log' }, { t: '10', sub: true }, { t: '[L' }, { t: 'X', sub: true },
    { t: ' (erg s' }, { t: '-1', sup: true }, { t: ')]' }
], 17.5).attr('text-anchor', 'middle');

svg.selectAll('text.legend')
    .data(legendItems)
    .enter().append('text')
    .attr('class', 'legend')
    .attr('x', 72)
    .attr('y', (d, i) => 30 + i * 26)
    .style('font-family', FONT)
    .attr('font-size', 24.5)
    .attr('fill', d => d.color)
    .text(d => d.label);

const dashLab = svg.append('g').attr('transform', 'translate(346,79) rotate(-22.5)');
richText(dashLab, [
    { t: '10' }, { t: '-12', sup: true }, { t: ' erg cm' }, { t: '-2', sup: true },
    { t: ' s' }, { t: '-1', sup: true }
], 16.5);

const solidLab = svg.append('g').attr('transform', 'translate(331,190) rotate(-27)');
richText(solidLab, [
    { t: '5x10' }, { t: '-14', sup: true }, { t: ' erg cm' }, { t: '-2', sup: true },
    { t: ' s' }, { t: '-1', sup: true }
], 16.5);
</script>
</body>
</html>
